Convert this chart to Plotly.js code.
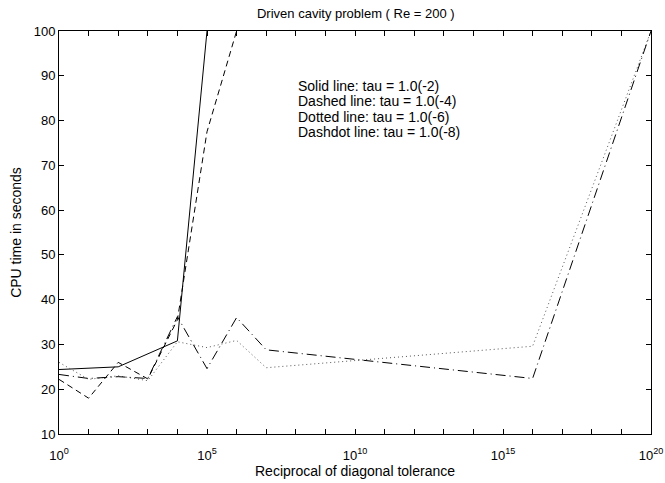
<!DOCTYPE html>
<html>
<head>
<meta charset="utf-8">
<script src="https://cdn.plot.ly/plotly-3.0.1.min.js"></script>
<style>html,body{margin:0;padding:0;background:#fff;}#chart{width:665px;height:483px;}</style>
</head>
<body>
<div id="chart"></div>
<script>
// Data
const solidX   = [1e0, 1e2, 1e4, 1e5];
const solidY   = [24.4, 25.0, 30.8, 100];
const dashedX  = [1e0, 1e1, 1e2, 1e3, 1e4, 1e5, 1e6];
const dashedY  = [22.2, 18.0, 26.0, 22.3, 35.5, 77.5, 100];
const dottedX  = [1e0, 1e1, 1e2, 1e3, 1e4, 1e5, 1e6, 1e7, 1e16, 1e20];
const dottedY  = [26.0, 22.2, 23.0, 21.9, 30.6, 29.3, 30.9, 24.8, 29.6, 100];
const dashdotX = [1e0, 1e1, 1e2, 1e3, 1e4, 1e5, 1e6, 1e7, 1e16, 1e20];
const dashdotY = [23.3, 22.4, 22.8, 22.4, 36.2, 24.6, 36.0, 28.8, 22.4, 100];

const xMajorExp = [0, 5, 10, 15, 20];
const xMinorExp = [1,2,3,4,6,7,8,9,11,12,13,14,16,17,18,19];
const yTicks = [10,20,30,40,50,60,70,80,90,100];
const legendLines = [
  'Solid line: tau = 1.0(-2)',
  'Dashed line: tau = 1.0(-4)',
  'Dotted line: tau = 1.0(-6)',
  'Dashdot line: tau = 1.0(-8)'
];

const FONT = 'Liberation Sans, Arial, Helvetica, sans-serif';
const lineBase = {type: 'scatter', mode: 'lines', hoverinfo: 'skip', showlegend: false};

const traces = [
  Object.assign({}, lineBase, {x: solidX, y: solidY, line: {color: '#000', width: 1, dash: 'solid'}}),
  Object.assign({}, lineBase, {x: dashedX, y: dashedY, line: {color: '#000', width: 1, dash: '6px,4px'}}),
  Object.assign({}, lineBase, {x: dottedX, y: dottedY, line: {color: '#555', width: 1, dash: '1px,3px'}}),
  Object.assign({}, lineBase, {x: dashdotX, y: dashdotY, line: {color: '#000', width: 1, dash: '10px,4px,1px,4px'}})
];

const axisCommon = {
  showline: true, linecolor: '#000', linewidth: 1, mirror: 'ticks',
  ticks: 'inside', ticklen: 5, tickcolor: '#000', tickwidth: 1,
  showgrid: false, zeroline: false,
  tickfont: {family: FONT, size: 13, color: '#000'}
};

const annotations = legendLines.map((t, i) => ({
  xref: 'paper', yref: 'paper', x: 0.401, y: (434.5 - (86 + i * 15.5)) / 403.5,
  xanchor: 'left', yanchor: 'middle', align: 'left', showarrow: false,
  text: t, font: {family: FONT, size: 14, color: '#000'}
}));

const layout = {
  width: 665, height: 483,
  paper_bgcolor: '#fff', plot_bgcolor: '#fff',
  margin: {l: 59, r: 14, t: 31, b: 49, pad: 0},
  font: {family: FONT, size: 13, color: '#000'},
  title: {text: 'Driven cavity problem ( Re = 200 )', font: {family: FONT, size: 13, color: '#000'},
          x: 0.535, xanchor: 'center', y: 0.973, yanchor: 'middle'},
  xaxis: Object.assign({}, axisCommon, {
    type: 'log', range: [0, 20],
    tickmode: 'array',
    tickvals: xMajorExp.map(e => Math.pow(10, e)),
    ticktext: xMajorExp.map(e => '10<sup>' + e + '</sup>'),
    ticklabelstandoff: 9,
    minor: {tickmode: 'array', tickvals: xMinorExp.map(e => Math.pow(10, e)),
            ticks: 'inside', ticklen: 5, tickcolor: '#000', tickwidth: 1, showgrid: false},
    title: {text: 'Reciprocal of diagonal tolerance', font: {family: FONT, size: 14, color: '#000'}, standoff: 3}
  }),
  yaxis: Object.assign({}, axisCommon, {
    range: [10, 100],
    tickmode: 'array', tickvals: yTicks, ticktext: yTicks.map(String),
    title: {text: 'CPU time in seconds', font: {family: FONT, size: 14, color: '#000'}, standoff: 8}
  }),
  annotations: annotations
};

Plotly.newPlot('chart', traces, layout, {displayModeBar: false, staticPlot: true});
</script>
</body>
</html>
